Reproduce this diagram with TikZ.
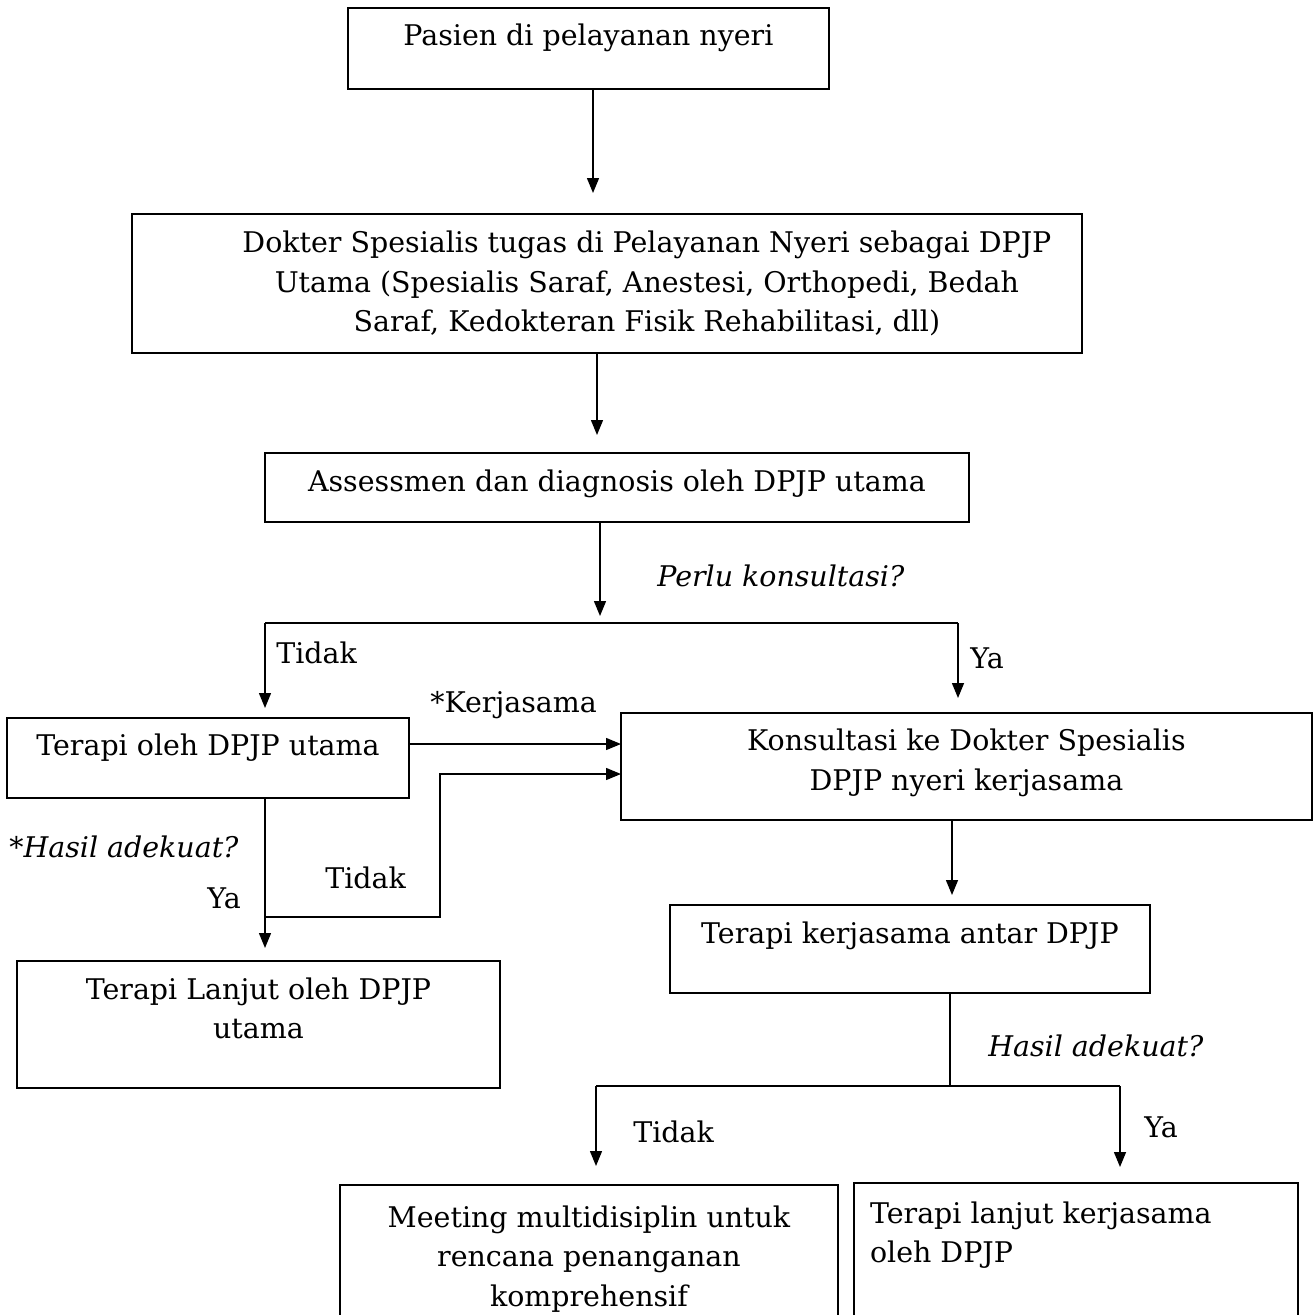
\documentclass[tikz,border=0pt]{standalone}
\usepackage{fontspec}
\setmainfont{DejaVu Serif}
\usetikzlibrary{arrows.meta}
\newcommand{\boxc}[4]{\parbox[t][#2][t]{#1}{\centering\rule{0pt}{#3}#4\par}}
\newcommand{\boxcs}[5]{\parbox[t][#2][t]{#1}{\centering\leftskip=#5 plus 1fil\rule{0pt}{#3}#4\par}}
\newcommand{\boxl}[5]{\parbox[t][#2][t]{#1}{\raggedright\leftskip=#5\rule{0pt}{#3}#4\par}}
\tikzset{
  x=0.02cm, y=-0.02cm,
  txt/.style={font=\fontsize{16.2pt}{22.5pt}\selectfont},
  itxt/.style={font=\fontsize{16.2pt}{22.5pt}\selectfont\itshape},
  box/.style={txt, draw, line width=0.9pt, rectangle, inner sep=0pt, outer sep=0pt, anchor=north west},
  lbl/.style={txt, inner sep=0pt, anchor=base west},
  ilbl/.style={itxt, inner sep=0pt, anchor=base west},
  conn/.style={line width=0.8pt},
  arr/.style={conn, -{Triangle[length=0.3cm,width=0.24cm]}}
}
\begin{document}
\begin{tikzpicture}
\useasboundingbox (0,0) rectangle (1314,1315);
\clip (0,0) rectangle (1314,1315);

% boxes
\node[box] (b1) at (348,8) {\boxc{9.62cm}{1.62cm}{0.76cm}{Pasien di pelayanan nyeri}};
\node[box] (b2) at (132,214) {\boxcs{19.0cm}{2.78cm}{0.77cm}{Dokter Spesialis tugas di Pelayanan Nyeri sebagai DPJP\\Utama (Spesialis Saraf, Anestesi, Orthopedi, Bedah\\Saraf, Kedokteran Fisik Rehabilitasi, dll)}{1.6cm}};
\node[box] (b3) at (265,453) {\boxc{14.08cm}{1.38cm}{0.77cm}{Assessmen dan diagnosis oleh DPJP utama}};
\node[box] (b4) at (7,718) {\boxc{8.04cm}{1.6cm}{0.75cm}{Terapi oleh DPJP utama}};
\node[box] (b5) at (621,713) {\boxc{13.82cm}{2.14cm}{0.75cm}{Konsultasi ke Dokter Spesialis\\DPJP nyeri kerjasama}};
\node[box] (b6) at (17,961) {\boxc{9.66cm}{2.54cm}{0.76cm}{Terapi Lanjut oleh DPJP\\utama}};
\node[box] (b7) at (670,905) {\boxc{9.6cm}{1.76cm}{0.77cm}{Terapi kerjasama antar DPJP}};
\node[box] (b8) at (340,1185) {\boxc{9.96cm}{3.2cm}{0.84cm}{Meeting multidisiplin untuk\\rencana penanganan\\komprehensif}};
\node[box] (b9) at (854,1183) {\boxl{8.88cm}{3.2cm}{0.8cm}{Terapi lanjut kerjasama\\oleh DPJP}{0.32cm}};

% labels
\node[ilbl] (l1) at (657,586) {Perlu konsultasi?};
\node[lbl] (l2) at (276,663) {Tidak};
\node[lbl] (l3) at (970,668) {Ya};
\node[lbl] (l4) at (430,712) {*Kerjasama};
\node[ilbl] (l5) at (9,857) {*Hasil adekuat?};
\node[lbl] (l6) at (325,888) {Tidak};
\node[lbl] (l7) at (207,908) {Ya};
\node[ilbl] (l8) at (988,1056) {Hasil adekuat?};
\node[lbl] (l9) at (633,1142) {Tidak};
\node[lbl] (l10) at (1144,1137) {Ya};

% coordinates
\coordinate (t1) at (593,193);
\coordinate (t2) at (597,435);
\coordinate (t3) at (600,616);
\coordinate (j1) at (265,623);
\coordinate (j2) at (958,623);
\coordinate (t4) at (265,708);
\coordinate (t5) at (958,698);
\coordinate (k1) at (500,744);
\coordinate (k2) at (500,774);
\coordinate (j3) at (265,917);
\coordinate (j4) at (440,917);
\coordinate (j5) at (440,774);
\coordinate (t6) at (265,948);
\coordinate (t7) at (952,895);
\coordinate (j6) at (950,1086);
\coordinate (j7) at (596,1086);
\coordinate (j8) at (1120,1086);
\coordinate (t8) at (596,1166);
\coordinate (t9) at (1120,1167);

% connectors
\draw[arr] (b1.south -| t1) -- (t1);
\draw[arr] (b2.south -| t2) -- (t2);
\draw[arr] (b3.south -| t3) -- (t3);
\draw[conn] (j1) -- (j2);
\draw[arr] (j1) -- (t4);
\draw[arr] (j2) -- (t5);
\draw[arr] (b4.east |- k1) -- (b5.west |- k1);
\draw[arr] (b4.south -| t6) -- (t6);
\draw[arr] (j3) -- (j4) -- (j5) -- (b5.west |- k2);
\draw[arr] (b5.south -| t7) -- (t7);
\draw[conn] (b7.south -| j6) -- (j6);
\draw[conn] (j7) -- (j8);
\draw[arr] (j7) -- (t8);
\draw[arr] (j8) -- (t9);
\end{tikzpicture}
\end{document}
